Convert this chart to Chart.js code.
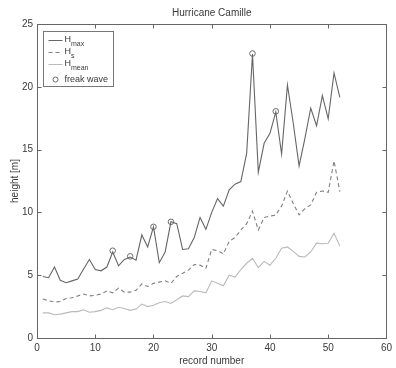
<!DOCTYPE html>
<html><head><meta charset="utf-8">
<script src="https://cdn.jsdelivr.net/npm/chart.js@4/dist/chart.umd.min.js"></script>
<style>html,body{margin:0;padding:0;background:#fff}#wrap{width:396px;height:368px;position:relative}</style>
</head><body><div id="wrap"><canvas id="c" width="396" height="368"></canvas></div>
<script>
const chartTitle = 'Hurricane Camille';
const xTitle = 'record number';
const yTitle = 'height [m]';
const recordNumbers = [1,2,3,4,5,6,7,8,9,10,11,12,13,14,15,16,17,18,19,20,21,22,23,24,25,26,27,28,29,30,31,32,33,34,35,36,37,38,39,40,41,42,43,44,45,46,47,48,49,50,51,52];
const hMax = [4.9,4.8,5.65,4.6,4.4,4.55,4.7,5.5,6.25,5.45,5.35,5.65,6.85,5.75,6.25,6.45,6.2,8.2,7.25,8.85,6.0,6.85,9.25,9.1,7.05,7.1,8.0,9.6,8.65,10.0,11.1,10.5,11.8,12.25,12.45,14.7,22.6,13.2,15.5,16.3,18.0,14.65,20.15,17.1,13.7,15.9,18.3,16.9,19.3,17.45,21.1,19.15];
const hS = [3.1,2.97,2.86,2.9,3.15,3.2,3.35,3.5,3.35,3.4,3.5,3.75,3.6,3.97,3.65,3.65,3.8,4.3,4.1,4.35,4.45,4.55,4.35,4.9,5.15,5.4,5.85,5.8,5.55,7.05,6.95,6.7,7.7,8.0,8.6,9.1,10.1,8.6,9.6,9.7,9.8,10.5,11.7,10.7,9.8,10.3,10.6,11.6,11.7,11.6,14.1,11.65];
const hMean = [2.0,2.0,1.85,1.9,2.0,2.1,2.1,2.25,2.05,2.1,2.2,2.4,2.25,2.45,2.35,2.2,2.3,2.7,2.5,2.6,2.8,2.9,2.75,3.05,3.35,3.3,3.75,3.7,3.6,4.55,4.35,4.15,5.0,4.85,5.45,5.95,6.35,5.6,6.1,5.8,6.35,7.15,7.25,6.9,6.5,6.45,6.85,7.55,7.5,7.55,8.35,7.3];
const freakRecords = [13,16,20,23,37,41];
const freakHeights = [6.95,6.5,8.85,9.25,22.65,18.05];
const xTicks = [0,10,20,30,40,50,60];
const yTicks = [0,5,10,15,20,25];

const pts = (xs, ys) => xs.map((x, i) => ({x, y: ys[i]}));
const FONT = '"Liberation Sans", Arial, sans-serif';
const TXT = '#3a3a3a';

const framePlugin = {
  id: 'frame',
  afterDraw(chart) {
    const {ctx, chartArea: a, scales: {x, y}} = chart;
    ctx.save();
    ctx.strokeStyle = '#666';
    ctx.lineWidth = 1;
    const L = Math.round(a.left) + 0.5, R = Math.round(a.right) + 0.5;
    const T = Math.round(a.top) + 0.5, B = Math.round(a.bottom) + 0.5;
    ctx.strokeRect(L, T, R - L, B - T);
    ctx.beginPath();
    x.ticks.forEach(t => {
      const p = Math.round(x.getPixelForValue(t.value)) + 0.5;
      ctx.moveTo(p, B); ctx.lineTo(p, B - 4);
      ctx.moveTo(p, T); ctx.lineTo(p, T + 4);
    });
    y.ticks.forEach(t => {
      const p = Math.round(y.getPixelForValue(t.value)) + 0.5;
      ctx.moveTo(L, p); ctx.lineTo(L + 4, p);
      ctx.moveTo(R, p); ctx.lineTo(R - 4, p);
    });
    ctx.stroke();
    // title
    ctx.fillStyle = TXT;
    ctx.font = '10px ' + FONT;
    ctx.textAlign = 'center';
    ctx.textBaseline = 'middle';
    ctx.fillText(chartTitle, (a.left + a.right) / 2, 13);
    // legend
    const bx = L + 6, by = T + 7, bw = 70, bh = 55;
    ctx.fillStyle = '#fff';
    ctx.fillRect(bx, by, bw, bh);
    ctx.strokeStyle = '#777';
    ctx.strokeRect(bx, by, bw, bh);
    const ds = chart.data.datasets;
    const rows = [
      {y: by + 8, main: 'H', sub: 'max', ds: ds[0]},
      {y: by + 20, main: 'H', sub: 's', ds: ds[1]},
      {y: by + 32, main: 'H', sub: 'mean', ds: ds[2]},
      {y: by + 48, main: 'freak wave', sub: '', ds: ds[3]}
    ];
    rows.forEach((r, i) => {
      ctx.strokeStyle = r.ds.borderColor;
      ctx.lineWidth = 1;
      if (i < 3) {
        ctx.setLineDash(r.ds.borderDash || []);
        ctx.beginPath();
        ctx.moveTo(bx + 5, Math.round(r.y) + 0.5);
        ctx.lineTo(bx + 19, Math.round(r.y) + 0.5);
        ctx.stroke();
        ctx.setLineDash([]);
      } else {
        ctx.beginPath();
        ctx.arc(bx + 12, r.y, 2.5, 0, Math.PI * 2);
        ctx.stroke();
      }
      ctx.fillStyle = TXT;
      ctx.textAlign = 'left';
      ctx.textBaseline = 'middle';
      ctx.font = '9px ' + FONT;
      ctx.fillText(r.main, bx + 21, r.y);
      if (r.sub) {
        const w = ctx.measureText(r.main).width;
        ctx.font = '7px ' + FONT;
        ctx.fillText(r.sub, bx + 21 + w, r.y + 5);
      }
    });
    ctx.restore();
  }
};

new Chart(document.getElementById('c'), {
  type: 'line',
  data: {
    datasets: [
      {label: 'Hmax', data: pts(recordNumbers, hMax), borderColor: '#666', borderWidth: 1.1, pointRadius: 0, fill: false, tension: 0},
      {label: 'Hs', data: pts(recordNumbers, hS), borderColor: '#808080', borderWidth: 1.1, borderDash: [4, 3], pointRadius: 0, fill: false, tension: 0},
      {label: 'Hmean', data: pts(recordNumbers, hMean), borderColor: '#bababa', borderWidth: 1.1, pointRadius: 0, fill: false, tension: 0},
      {label: 'freak wave', data: pts(freakRecords, freakHeights), showLine: false, borderColor: '#6a6a6a', backgroundColor: 'rgba(0,0,0,0)', borderWidth: 1, pointRadius: 2.8, pointStyle: 'circle'}
    ]
  },
  options: {
    responsive: false,
    animation: false,
    devicePixelRatio: 1,
    layout: {padding: {top: 24, right: 8, left: 0, bottom: 0}},
    plugins: {legend: {display: false}, title: {display: false}, tooltip: {enabled: false}},
    scales: {
      x: {
        type: 'linear', min: 0, max: 60,
        afterBuildTicks: s => { s.ticks = xTicks.map(v => ({value: v})); },
        afterFit: s => { s.height = 30; },
        grid: {display: false, drawTicks: false},
        border: {display: false},
        ticks: {font: {size: 10, family: FONT}, color: TXT, padding: 4, maxRotation: 0},
        title: {display: true, text: xTitle, font: {size: 10, family: FONT}, color: TXT, padding: {top: 0, bottom: 1}}
      },
      y: {
        type: 'linear', min: 0, max: 25,
        afterBuildTicks: s => { s.ticks = yTicks.map(v => ({value: v})); },
        afterFit: s => { s.width = 37; },
        grid: {display: false, drawTicks: false},
        border: {display: false},
        ticks: {font: {size: 10, family: FONT}, color: TXT, padding: 4},
        title: {display: true, text: yTitle, font: {size: 10, family: FONT}, color: TXT, padding: {top: 9, bottom: 0}}
      }
    }
  },
  plugins: [framePlugin]
});
</script></body></html>
